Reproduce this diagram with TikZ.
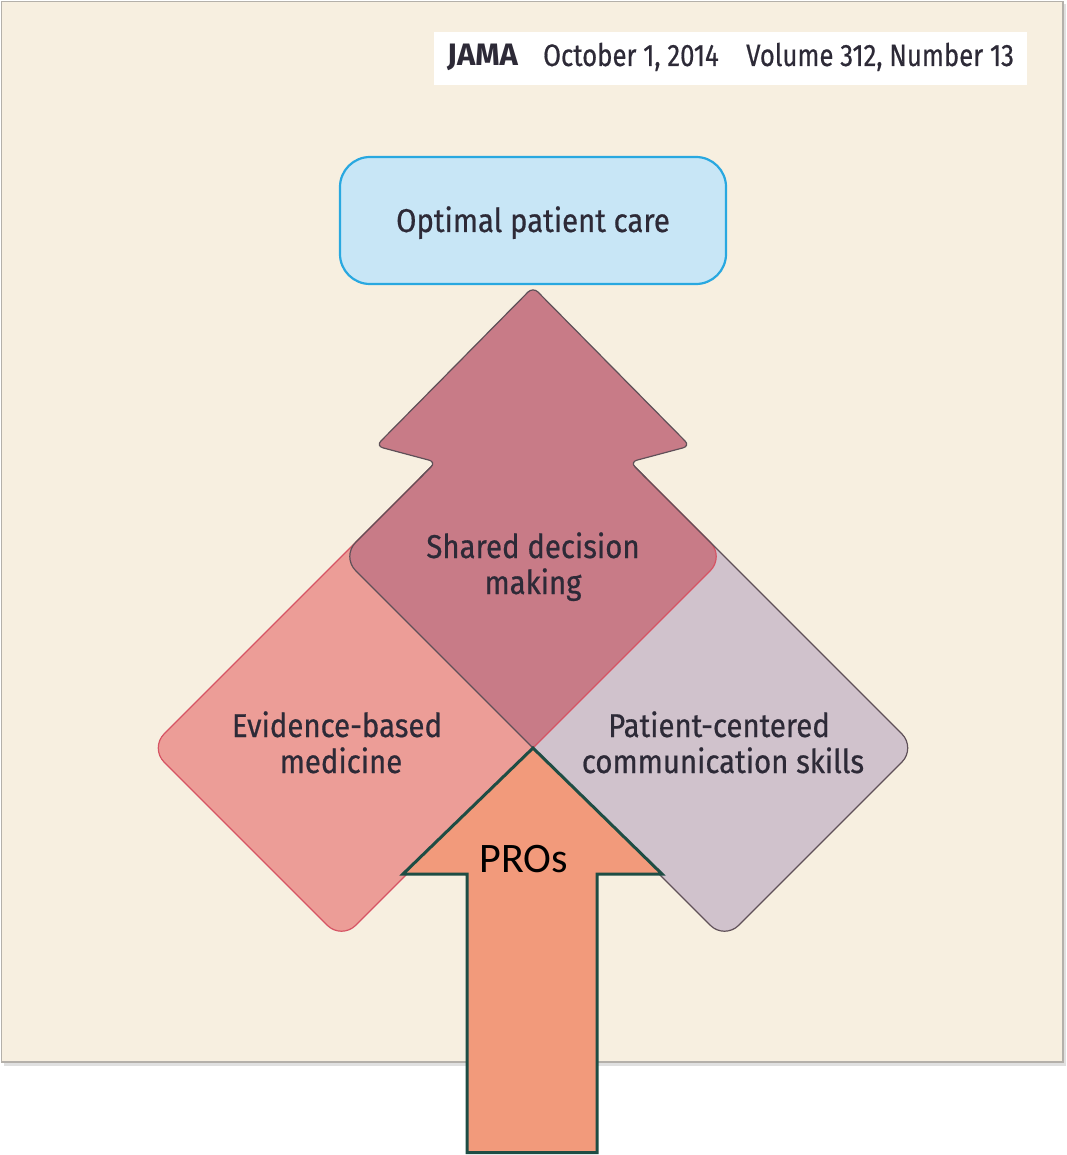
\documentclass[tikz,border=0pt]{standalone}
\usepackage{fontspec}
\setmainfont{Fira Sans}
\newfontfamily\jf[FakeStretch=0.89, FakeBold=0.6]{Fira Sans}
\newfontfamily\jh[FakeStretch=0.83, FakeBold=0.5]{Fira Sans}
\newfontfamily\jhb[FakeStretch=1.0]{Fira Sans}
\newfontfamily\calfont{Carlito}
\definecolor{panelbg}{RGB}{247,239,224}
\definecolor{panelbd}{RGB}{180,176,170}
\definecolor{boxfill}{RGB}{200,230,246}
\definecolor{boxbd}{RGB}{41,168,224}
\definecolor{sdm}{RGB}{200,123,135}
\definecolor{ebm}{RGB}{236,157,151}
\definecolor{ebmbd}{RGB}{214,84,100}
\definecolor{pcc}{RGB}{208,194,204}
\definecolor{darkbd}{RGB}{95,80,88}
\definecolor{pro}{RGB}{242,154,123}
\definecolor{probd}{RGB}{30,77,68}
\definecolor{txt}{RGB}{45,42,55}
\newcommand\leftrectpath{(245.75,843.75) -- (341.5,939.5) -- (724.5,556.5) -- (533,365) -- (150,748) -- cycle}
\newcommand\rightrectpath{(820.25,843.75) -- (724.5,939.5) -- (341.5,556.5) -- (533,365) -- (916,748) -- cycle}
\newcommand\arrowheadpath{(420,478) -- (436,462) -- (376,446) -- (533,287) -- (690,446) -- (630,462) -- (646,478)}
\begin{document}
\begin{tikzpicture}[x=1pt,y=-1pt,
  lab/.style={text=txt, font=\jf\fontsize{33}{37}\selectfont, inner sep=0pt, anchor=base},
  hdr/.style={text=txt, font=\jh\fontsize{31}{34}\selectfont, inner sep=0pt, anchor=base west},
  shapeline/.style={line width=1.2pt, line join=round, rounded corners=20pt}]
\useasboundingbox (0,0) rectangle (1066,1155);
\fill[white] (0,0) rectangle (1066,1155);
% panel with shadow
\fill[black!12] (4,4) rectangle (1066,1066);
\draw[panelbd, fill=panelbg, line width=1.5pt] (1.5,1.5) rectangle (1063,1062);
% header
\fill[white] (434,32) rectangle (1027,85);
\node[hdr, font=\jhb\bfseries\fontsize{31}{34}\selectfont] (jama) at (447,66) {JAMA};
\node[hdr] (date) at (543,66) {October 1, 2014};
\node[hdr] (vol) at (746,66) {Volume 312, Number 13};
% coordinates
\coordinate (C) at (533,748);
% evidence-based medicine and patient-centered communication rectangles
\fill[ebm, shapeline] \leftrectpath;
\fill[pcc, shapeline] \rightrectpath;
\begin{scope}[rounded corners=20pt]
  \clip \leftrectpath;
  \fill[sdm] \rightrectpath;
\end{scope}
\draw[ebmbd, shapeline] \leftrectpath;
\draw[darkbd, shapeline] \rightrectpath;
% arrowhead of shared decision making
\fill[sdm, rounded corners=7pt] \arrowheadpath -- cycle;
\draw[darkbd, line width=1.2pt, line join=round, rounded corners=7pt] \arrowheadpath;
% labels in diamonds
\node[lab] (sdm1) at (533,558) {Shared decision};
\node[lab] (sdm2) at (533,594) {making};
\node[lab] (ebm1) at (337,737) {Evidence-based};
\node[lab] (ebm2) at (341,773) {medicine};
\node[lab] (pcc1) at (719,737) {Patient-centered};
\node[lab] (pcc2) at (723,773) {communication skills};
% top box
\draw[boxbd, fill=boxfill, line width=2.2pt, rounded corners=30pt] (340,157) rectangle (726,284);
\node[lab] (opt) at (533,232) {Optimal patient care};
% PROs arrow
\draw[probd, fill=pro, line width=3pt, line join=miter] (C) -- (662,874) -- (597,874) -- (597,1152.5) -- (467,1152.5) -- (467,874) -- (403,874) -- cycle;
\node[font=\calfont\fontsize{42}{48}\selectfont, text=black, inner sep=0pt, anchor=base] (pros) at (524,872) {PROs};
\end{tikzpicture}
\end{document}
